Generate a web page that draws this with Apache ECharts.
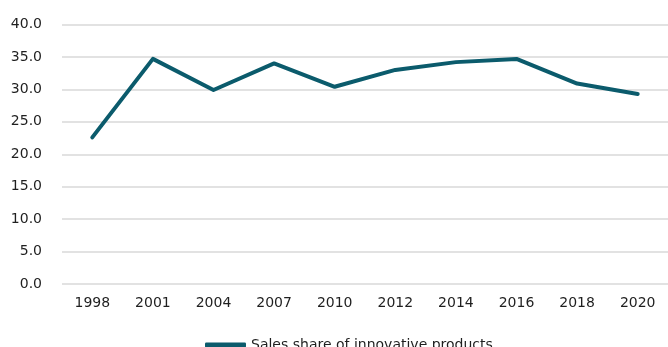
<!DOCTYPE html>
<html>
<head>
<meta charset="utf-8">
<script src="https://cdn.jsdelivr.net/npm/echarts@6/dist/echarts.min.js"></script>
<style>
  html, body { margin: 0; padding: 0; background: #fff; }
  #chart { width: 668px; height: 347px; }
</style>
</head>
<body>
<div id="chart"></div>
<script>
// Survey years on the category axis
const years = ['1998', '2001', '2004', '2007', '2010', '2012', '2014', '2016', '2018', '2020'];
// Share of sales from innovative products (%)
const salesShare = [22.6, 34.7, 29.9, 34.0, 30.4, 33.0, 34.2, 34.7, 30.9, 29.3];
const seriesName = 'Sales share of innovative products';

const lineColor = '#0b5b6c';
const textColor = '#1f1f1f';
const fontFamily = '"DejaVu Sans", sans-serif';

const chart = echarts.init(document.getElementById('chart'), null, { renderer: 'canvas' });
chart.setOption({
  animation: false,
  backgroundColor: '#ffffff',
  grid: { left: 62, right: 0, top: 24.5, bottom: 63 },
  legend: {
    data: [{ name: seriesName, icon: 'roundRect' }],
    left: 200,
    top: 333,
    itemWidth: 41,
    itemHeight: 5,
    itemGap: 8,
    textStyle: { color: textColor, fontSize: 14, fontFamily: fontFamily }
  },
  xAxis: {
    type: 'category',
    data: years,
    boundaryGap: true,
    axisLine: { show: false },
    axisTick: { show: false },
    axisLabel: { color: textColor, fontSize: 14, fontFamily: fontFamily, margin: 12 }
  },
  yAxis: {
    type: 'value',
    min: 0,
    max: 40,
    interval: 5,
    axisLine: { show: false },
    axisTick: { show: false },
    axisLabel: {
      color: textColor, fontSize: 14, fontFamily: fontFamily, margin: 20,
      formatter: v => v.toFixed(1)
    },
    splitLine: { lineStyle: { color: '#d9d9d9', width: 1.5 } }
  },
  series: [{
    name: seriesName,
    type: 'line',
    data: salesShare,
    symbol: 'none',
    lineStyle: { color: lineColor, width: 4, cap: 'round', join: 'round' },
    itemStyle: { color: lineColor }
  }]
});
</script>
</body>
</html>
